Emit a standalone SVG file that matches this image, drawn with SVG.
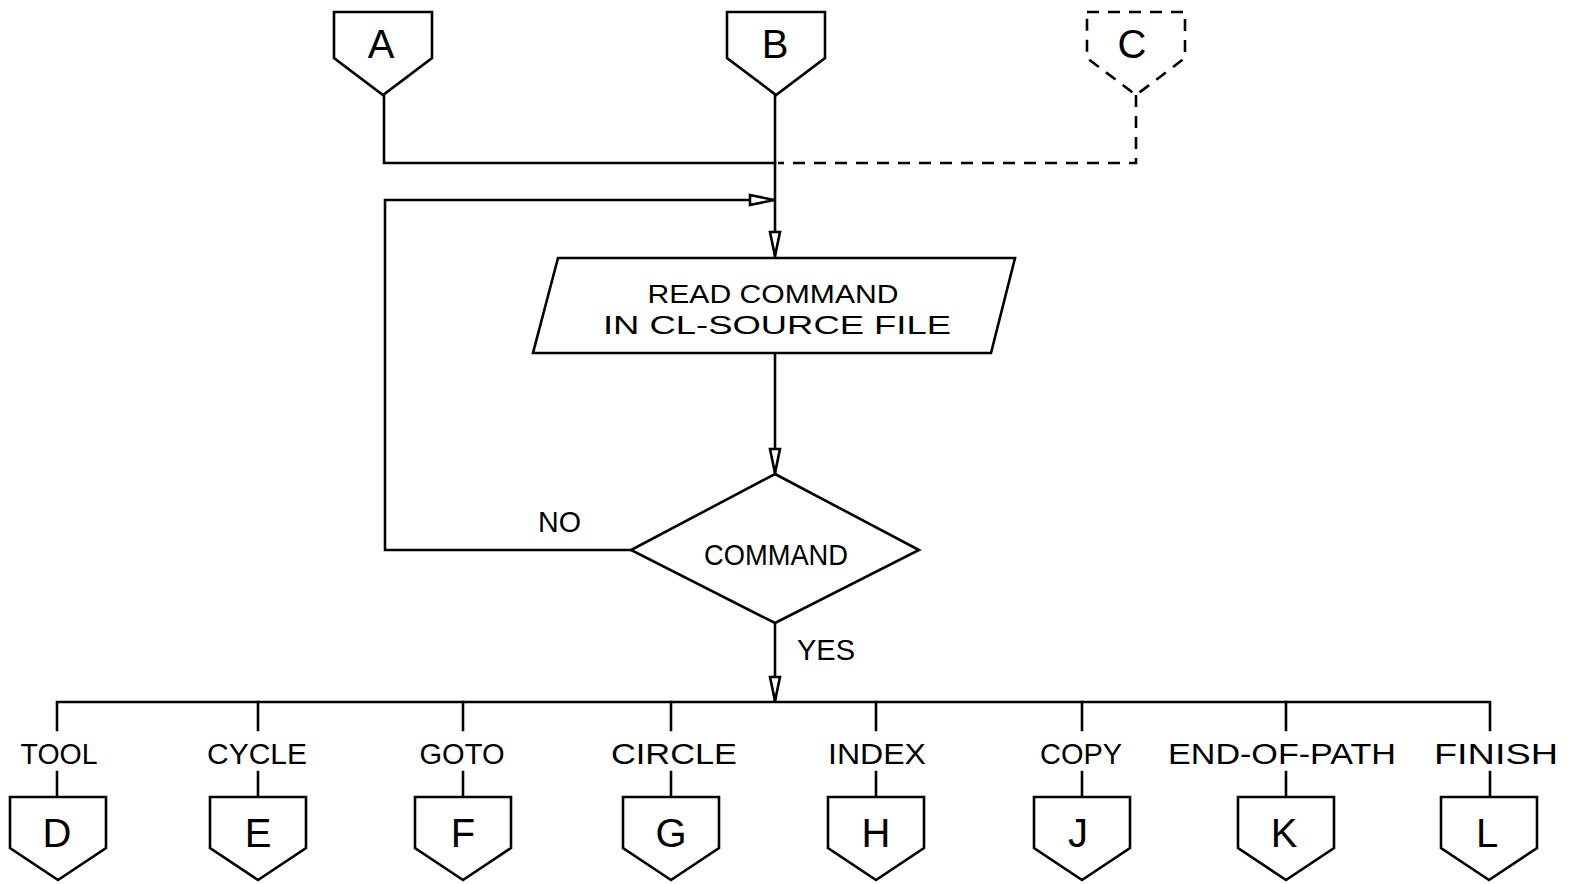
<svg xmlns="http://www.w3.org/2000/svg" width="1583" height="884" viewBox="0 0 1583 884">
<style>
.ln{fill:none;stroke:#000;stroke-width:2.6;stroke-linejoin:miter;stroke-linecap:square}
.dash{fill:none;stroke:#000;stroke-width:2.6;stroke-dasharray:12 9}
.shape{fill:#fff;stroke:#000;stroke-width:2.6;stroke-linejoin:miter}
.dshape{fill:#fff;stroke:#000;stroke-width:2.6;stroke-dasharray:12 9}
.t{font-family:"Liberation Sans",Arial,sans-serif;font-size:30px;fill:#000;text-anchor:middle}
.s{font-family:"Liberation Sans",Arial,sans-serif;font-size:26px;fill:#000;text-anchor:middle}
.big{font-family:"Liberation Sans",Arial,sans-serif;font-size:40px;fill:#000;text-anchor:middle}
</style>
<defs>
<marker id="arr" markerUnits="userSpaceOnUse" markerWidth="30" markerHeight="16" refX="26" refY="8" orient="auto">
<path d="M2,3 L26,8 L2,13 Z" fill="#fff" stroke="#000" stroke-width="2.6"/>
</marker>
<path id="offTop" d="M-49,0 H49 V46 L0,83 L-49,46 Z"/>
<path id="offBot" d="M-48,0 H48 V51 L0,83 L-48,51 Z"/>
</defs>
<rect width="1583" height="884" fill="#fff"/>
<g id="connectors">
<path class="ln" d="M384,95 V163 H775"/>
<path class="dash" d="M1136,95 V163 H778"/>
<path class="ln" d="M775,95 V256" marker-end="url(#arr)"/>
<path class="ln" d="M631,550 H385 V200 H774" marker-end="url(#arr)"/>
<path class="ln" d="M775,353 V473" marker-end="url(#arr)"/>
<path class="ln" d="M775,623 V701" marker-end="url(#arr)"/>
<path class="ln" d="M57,730 V702 H1490 V730"/>
<path class="ln" d="M258,702 V730 M463,702 V730 M671,702 V730 M876,702 V730 M1082,702 V730 M1286,702 V730"/>
<path class="ln" d="M57,772 V797 M258,772 V797 M463,772 V797 M671,772 V797 M876,772 V797 M1082,772 V797 M1286,772 V797 M1490,772 V797"/>
<text class="t" x="538" y="532" textLength="43" lengthAdjust="spacingAndGlyphs" style="text-anchor:start">NO</text>
<text class="t" x="797" y="660" textLength="58" lengthAdjust="spacingAndGlyphs" style="text-anchor:start">YES</text>
<text class="t" x="59" y="764" textLength="77" lengthAdjust="spacingAndGlyphs">TOOL</text>
<text class="t" x="257" y="764" textLength="100" lengthAdjust="spacingAndGlyphs">CYCLE</text>
<text class="t" x="462" y="764" textLength="85" lengthAdjust="spacingAndGlyphs">GOTO</text>
<text class="t" x="674" y="764" textLength="126" lengthAdjust="spacingAndGlyphs">CIRCLE</text>
<text class="t" x="877" y="764" textLength="98" lengthAdjust="spacingAndGlyphs">INDEX</text>
<text class="t" x="1081" y="764" textLength="82" lengthAdjust="spacingAndGlyphs">COPY</text>
<text class="t" x="1282" y="764" textLength="228" lengthAdjust="spacingAndGlyphs">END-OF-PATH</text>
<text class="t" x="1496" y="764" textLength="124" lengthAdjust="spacingAndGlyphs">FINISH</text>
</g>
<g id="nodeA"><use href="#offTop" class="shape" x="383" y="12"/><text class="big" x="381" y="58">A</text></g>
<g id="nodeB"><use href="#offTop" class="shape" x="776" y="12"/><text class="big" x="775" y="58">B</text></g>
<g id="nodeC"><use href="#offTop" class="dshape" x="1136" y="12"/><text class="big" x="1132" y="58">C</text></g>
<g id="read">
<path class="shape" d="M558,258 H1015 L991,353 H533 Z"/>
<text class="s" x="773" y="303" textLength="251" lengthAdjust="spacingAndGlyphs">READ COMMAND</text>
<text class="s" x="777" y="334" textLength="348" lengthAdjust="spacingAndGlyphs">IN CL-SOURCE FILE</text>
</g>
<g id="decision">
<path class="shape" d="M775,474 L919,550 L775,623 L631,550 Z"/>
<text class="t" x="776" y="565" textLength="144" lengthAdjust="spacingAndGlyphs">COMMAND</text>
</g>
<g id="nodeD"><use href="#offBot" class="shape" x="58" y="797"/><text class="big" x="57" y="847">D</text></g>
<g id="nodeE"><use href="#offBot" class="shape" x="258" y="797"/><text class="big" x="258" y="847">E</text></g>
<g id="nodeF"><use href="#offBot" class="shape" x="463" y="797"/><text class="big" x="463" y="847">F</text></g>
<g id="nodeG"><use href="#offBot" class="shape" x="671" y="797"/><text class="big" x="671" y="847">G</text></g>
<g id="nodeH"><use href="#offBot" class="shape" x="876" y="797"/><text class="big" x="876" y="847">H</text></g>
<g id="nodeJ"><use href="#offBot" class="shape" x="1082" y="797"/><text class="big" x="1078" y="847">J</text></g>
<g id="nodeK"><use href="#offBot" class="shape" x="1286" y="797"/><text class="big" x="1284" y="847">K</text></g>
<g id="nodeL"><use href="#offBot" class="shape" x="1489" y="797"/><text class="big" x="1487" y="847">L</text></g>
</svg>
